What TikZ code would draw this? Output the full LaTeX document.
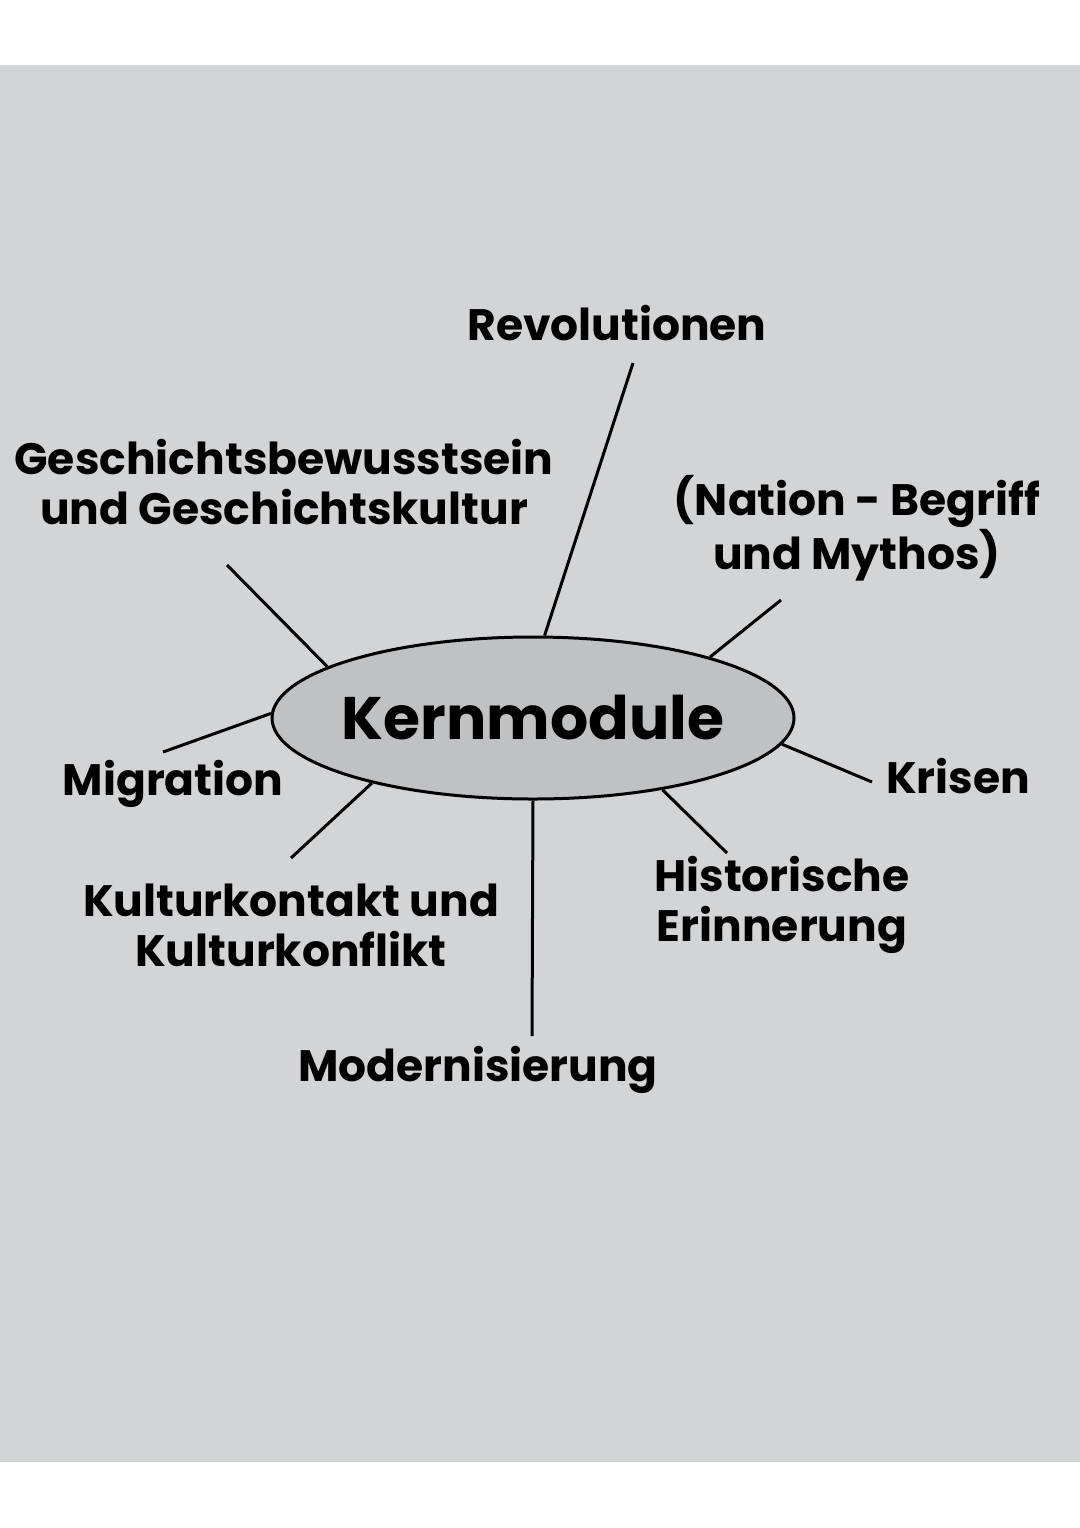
\documentclass[tikz,border=0pt]{standalone}
\usepackage{fontspec}
\setmainfont{Poppins}
\usetikzlibrary{shapes.geometric}
\definecolor{bg}{HTML}{D3D4D6}
\definecolor{core}{HTML}{C0C1C3}
\tikzset{
  conn/.style={line width=1.5pt, black},
  lab/.style={font=\bfseries\fontsize{22}{25}\selectfont, align=center, inner sep=0pt, text=black},
}
\begin{document}
\begin{tikzpicture}[x=0.5pt,y=-0.5pt]
\useasboundingbox (0,0) rectangle (1080,1528);
\fill[white] (0,0) rectangle (1080,1528);
\fill[bg] (0,65) rectangle (1080,1462);
\node[ellipse, draw, line width=1.5pt, fill=core, minimum width=261pt, minimum height=81pt, inner sep=0pt,
  font=\bfseries\fontsize{30}{34}\selectfont] (core) at (533,718) {\makebox[0pt][c]{Kernmodule}};
\node[lab] (rev) at (617,323) {Revolutionen};
\node[lab] (ges) at (284,482) {Geschichtsbewusstsein\\und Geschichtskultur};
\node[lab] (nat) at (857,528) {(Nation - Begriff\\und Mythos)};
\node[lab] (mig) at (173,784) {Migration};
\node[lab] (kri) at (958,776) {Krisen};
\node[lab] (kul) at (291,925) {Kulturkontakt und\\Kulturkonflikt};
\node[lab] (his) at (782,905) {Historische\\Erinnerung};
\node[lab] (mod) at (478,1070) {Modernisierung};
\coordinate (crev) at (633,363);
\coordinate (cges) at (227,565);
\coordinate (cnat) at (781,600);
\coordinate (cmig) at (163,752);
\coordinate (ckri) at (872,782);
\coordinate (ckul) at (291,858);
\coordinate (chis) at (727,853);
\coordinate (cmod) at (532,1036);
\draw[conn] (core.82.3) -- (crev);
\draw[conn] (core.166.5) -- (cges);
\draw[conn] (core.19.4) -- (cnat);
\draw[conn] (core.179.6) -- (cmig);
\draw[conn] (core.-6.9) -- (ckri);
\draw[conn] (core.-158.3) -- (ckul);
\draw[conn] (core.-29.7) -- (chis);
\draw[conn] (core.-90) -- (cmod);
\end{tikzpicture}
\end{document}
